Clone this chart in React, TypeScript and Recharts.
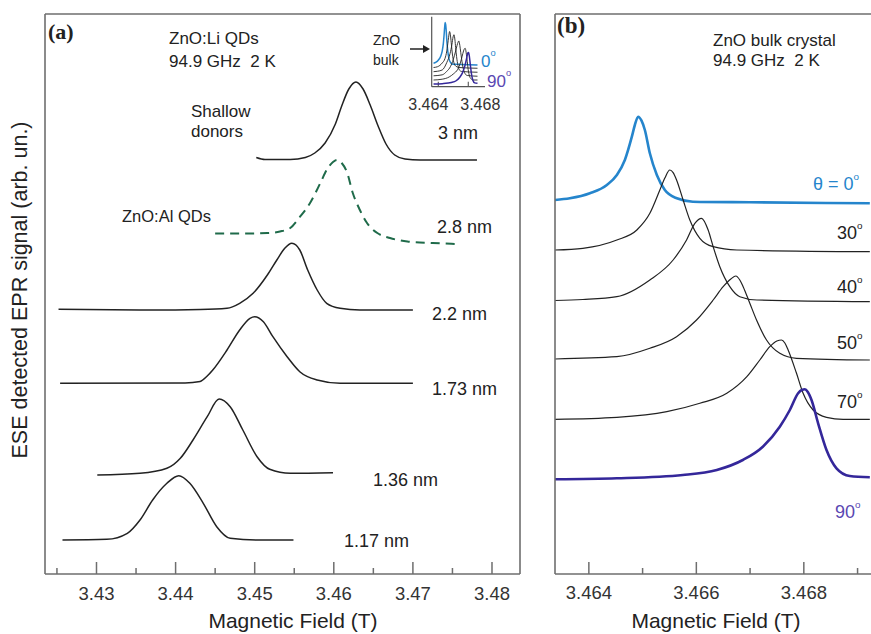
import React from 'react';
import { LineChart, Line, XAxis, YAxis, ReferenceLine } from 'recharts';

// ---- panel (a): ZnO:Li / ZnO:Al quantum dots, field in T, signal in arb. units ----
const li3Field = [3.4502, 3.4513, 3.4545, 3.4564, 3.4576, 3.4589, 3.4602, 3.461, 3.4619, 3.4628, 3.4637, 3.4646, 3.4656, 3.4666, 3.4677, 3.469, 3.4709, 3.4781];
const li3Signal = [41.65, 41.45, 41.45, 41.65, 42.1, 43.1, 45.0, 46.8, 48.5, 49.2, 48.5, 46.9, 44.8, 43.0, 41.9, 41.5, 41.4, 41.4];

const al28Field = [3.445, 3.4488, 3.4516, 3.4532, 3.4545, 3.4557, 3.457, 3.4583, 3.4591, 3.4599, 3.4604, 3.461, 3.4617, 3.4624, 3.4633, 3.4642, 3.4655, 3.4671, 3.4693, 3.4725, 3.4753];
const al28Signal = [34.05, 34.05, 34.1, 34.25, 34.6, 35.7, 37.1, 39.1, 40.4, 41.2, 41.4, 41.1, 40.1, 38.1, 36.4, 35.1, 34.1, 33.6, 33.25, 33.1, 33.0];

const li22Field = [3.4252, 3.4368, 3.4431, 3.4465, 3.4481, 3.4498, 3.4516, 3.4528, 3.4538, 3.4547, 3.4557, 3.4567, 3.4579, 3.4591, 3.4608, 3.4633, 3.47];
const li22Signal = [26.47, 26.4, 26.45, 26.57, 27.07, 28.07, 29.9, 31.4, 32.57, 33.07, 32.4, 30.4, 28.4, 27.07, 26.57, 26.4, 26.4];

const li173Field = [3.4254, 3.4412, 3.4431, 3.444, 3.4447, 3.4465, 3.4481, 3.4494, 3.45, 3.4511, 3.4523, 3.4541, 3.4557, 3.4579, 3.4608, 3.47];
const li173Signal = [19.07, 19.1, 19.25, 19.8, 20.4, 22.4, 24.4, 25.57, 25.73, 25.23, 23.73, 21.73, 20.23, 19.4, 19.07, 19.07];

const li136Field = [3.4301, 3.4355, 3.4389, 3.4406, 3.4422, 3.444, 3.4455, 3.4469, 3.4485, 3.4503, 3.4519, 3.4545, 3.4599];
const li136Signal = [9.9, 10.07, 10.57, 11.57, 13.4, 15.73, 17.5, 16.73, 14.4, 11.73, 10.47, 10.07, 10.13];

const li117Field = [3.4257, 3.4313, 3.4339, 3.4355, 3.4371, 3.4389, 3.4404, 3.4418, 3.4435, 3.4452, 3.4469, 3.4503, 3.4549];
const li117Signal = [3.4, 3.47, 4.07, 5.4, 7.4, 9.07, 9.83, 9.07, 7.07, 4.73, 3.57, 3.4, 3.4];

const majorTicksA = [3.43, 3.44, 3.45, 3.46, 3.47, 3.48];
const minorTicksA = [3.425, 3.435, 3.445, 3.455, 3.465, 3.475];

// ---- panel (b): ZnO bulk crystal, angle series ----
const deg0Field = [3.463367, 3.463647, 3.464019, 3.464335, 3.464521, 3.46467, 3.4648, 3.464856, 3.464917, 3.46498, 3.465042, 3.465135, 3.465265, 3.465414, 3.465637, 3.465935, 3.466995, 3.469228];
const deg0Signal = [37.4, 37.57, 38.07, 38.9, 39.9, 41.4, 43.73, 44.9, 45.73, 45.33, 44.4, 42.07, 39.9, 38.4, 37.57, 37.23, 37.17, 37.07];

const deg30Field = [3.463367, 3.463888, 3.464521, 3.464893, 3.465135, 3.465321, 3.465414, 3.465507, 3.465568, 3.465632, 3.465754, 3.465879, 3.466065, 3.466313, 3.466753, 3.469228];
const deg30Signal = [32.4, 32.57, 33.4, 34.4, 36.07, 38.4, 39.6, 40.4, 40.13, 39.4, 37.4, 35.4, 33.57, 32.73, 32.4, 32.23];

const deg40Field = [3.463367, 3.463888, 3.464521, 3.465135, 3.465568, 3.465818, 3.465972, 3.466097, 3.46622, 3.466313, 3.466437, 3.466623, 3.466809, 3.467126, 3.469228];
const deg40Signal = [27.35, 27.45, 27.73, 29.4, 31.4, 33.4, 35.07, 35.57, 34.4, 32.73, 30.73, 28.73, 27.73, 27.4, 27.23];

const deg50Field = [3.463367, 3.464521, 3.465135, 3.465632, 3.466004, 3.466313, 3.466499, 3.466642, 3.466735, 3.466809, 3.466871, 3.466995, 3.46712, 3.467306, 3.467553, 3.467864, 3.469228];
const deg50Signal = [21.5, 21.73, 22.57, 23.73, 25.4, 27.4, 28.73, 29.5, 29.8, 29.4, 28.73, 27.07, 25.4, 23.4, 22.07, 21.57, 21.4];

const deg70Field = [3.463367, 3.464521, 3.465451, 3.466065, 3.466567, 3.46694, 3.467181, 3.467367, 3.467498, 3.467585, 3.467647, 3.467708, 3.467864, 3.467987, 3.468173, 3.468422, 3.468731, 3.469228];
const deg70Signal = [15.47, 15.67, 16.23, 17.07, 18.07, 19.73, 21.4, 22.73, 23.3, 23.4, 23.1, 22.4, 20.07, 18.07, 16.4, 15.67, 15.47, 15.47];

const deg90Field = [3.463367, 3.464521, 3.465749, 3.466381, 3.466865, 3.467237, 3.467553, 3.46774, 3.467894, 3.467963, 3.468019, 3.468074, 3.468143, 3.468266, 3.468422, 3.468608, 3.468856, 3.469228];
const deg90Signal = [9.47, 9.57, 9.9, 10.4, 11.4, 12.73, 14.73, 16.4, 18.07, 18.4, 18.47, 18.2, 17.4, 15.07, 12.4, 10.57, 9.8, 9.67];

const majorTicksB = [3.464, 3.466, 3.468];
const minorTicksB = [3.465, 3.467, 3.469];

// inset in panel (a): same bulk spectra, compressed
const insetBase = [2.34, 1.92, 1.5, 1.09, 0.67, 0.27];
const insetGain = [0.49, 0.45, 0.45, 0.42, 0.4, 0.35];
const insetTicks = [3.464, 3.468];

const FONT = '"Liberation Sans", Arial, sans-serif';
const SERIF = '"Liberation Serif", "Times New Roman", serif';
const FRAME = '#6e6e6e';
const INK = '#222';
const BLUE = '#2585cc';
const PURPLE = '#34279a';
const GREEN = '#1f6b4a';

type Pt = { b: number; s: number };
const zip = (f: number[], s: number[]): Pt[] => f.map((b, i) => ({ b, s: s[i] }));

const panelA = [
  { key: 'li3', data: zip(li3Field, li3Signal), color: INK, width: 1.5, dash: undefined },
  { key: 'al28', data: zip(al28Field, al28Signal), color: GREEN, width: 2, dash: '9 6' },
  { key: 'li22', data: zip(li22Field, li22Signal), color: INK, width: 1.5, dash: undefined },
  { key: 'li173', data: zip(li173Field, li173Signal), color: INK, width: 1.5, dash: undefined },
  { key: 'li136', data: zip(li136Field, li136Signal), color: INK, width: 1.5, dash: undefined },
  { key: 'li117', data: zip(li117Field, li117Signal), color: INK, width: 1.5, dash: undefined },
];

const bulkSeries = [
  { key: 'd0', f: deg0Field, s: deg0Signal, color: BLUE, width: 2.6 },
  { key: 'd30', f: deg30Field, s: deg30Signal, color: INK, width: 1.2 },
  { key: 'd40', f: deg40Field, s: deg40Signal, color: INK, width: 1.2 },
  { key: 'd50', f: deg50Field, s: deg50Signal, color: INK, width: 1.2 },
  { key: 'd70', f: deg70Field, s: deg70Signal, color: INK, width: 1.2 },
  { key: 'd90', f: deg90Field, s: deg90Signal, color: PURPLE, width: 2.6 },
];

const insetSeries = bulkSeries.map((c, i) => ({
  ...c,
  data: c.f.map((b, j) => ({ b, s: insetBase[i] + (c.s[j] - c.s[0]) * insetGain[i] })),
}));

// label only; tick marks are drawn as reference segments inside the frame
function FieldLabel(props: any) {
  const { x, y, payload, digits, fontSize, labelGap, shifts, majors } = props;
  const v = payload.value as number;
  const idx = majors.findIndex((m: number) => Math.abs(m - v) < 1e-7);
  const dx = shifts ? shifts[idx] || 0 : 0;
  return (
    <text x={x + dx} y={y + labelGap} textAnchor="middle" dominantBaseline="central" fontFamily={FONT} fontSize={fontSize} fill="#333">
      {v.toFixed(digits)}
    </text>
  );
}

const frameLine = { stroke: FRAME, strokeWidth: 1.6 };

function tickMarks(values: number[], len: number, color = FRAME, w = 1.5) {
  return values.map((v) => (
    <ReferenceLine
      key={`tk${v}`}
      xAxisId="b"
      yAxisId="l"
      segment={[{ x: v, y: 0 }, { x: v, y: len }]}
      stroke={color}
      strokeWidth={w}
      ifOverflow="visible"
    />
  ));
}

function Deg({ x, y, n, color, size = 18 }: { x: number; y: number; n: string; color: string; size?: number }) {
  return (
    <text x={x} y={y} dominantBaseline="central" fontFamily={FONT} fontSize={size} fill={color}>
      {n}
      <tspan dy={-size * 0.45} fontSize={size * 0.55}>o</tspan>
    </text>
  );
}

export default function App() {
  const domA: [number, number] = [3.42349, 3.48354];
  const domB: [number, number] = [3.46337, 3.46925];
  const domInset: [number, number] = [3.46312, 3.47023];
  const t = (x: number, y: number, s: string, size = 18, extra: any = {}) => (
    <text x={x} y={y} dominantBaseline="central" fontFamily={FONT} fontSize={size} fill="#222" {...extra}>
      {s}
    </text>
  );

  return (
    <div style={{ position: 'absolute', left: 0, top: 0, width: 871, height: 634, background: '#fff', overflow: 'hidden' }}>
      {/* panel (a) */}
      <div style={{ position: 'absolute', left: 0, top: 0 }}>
        <LineChart width={540} height={634} margin={{ top: 13, right: 19, bottom: 30, left: 44 }}>
          <XAxis
            xAxisId="b"
            type="number"
            dataKey="b"
            domain={domA}
            allowDataOverflow
            ticks={majorTicksA}
            interval={0}
            height={30}
            tickSize={0}
            tickMargin={0}
            tickLine={false}
            axisLine={frameLine}
            tick={<FieldLabel majors={majorTicksA} digits={2} fontSize={18.5} labelGap={19} />}
          />
          <XAxis xAxisId="t" orientation="top" type="number" dataKey="b" domain={domA} allowDataOverflow height={1} tick={false} tickLine={false} axisLine={frameLine} />
          <YAxis yAxisId="l" type="number" domain={[0, 56]} allowDataOverflow width={1} tick={false} tickLine={false} axisLine={frameLine} />
          <YAxis yAxisId="r" orientation="right" type="number" domain={[0, 56]} allowDataOverflow width={1} tick={false} tickLine={false} axisLine={frameLine} />
          {tickMarks(majorTicksA, 1.2)}
          {tickMarks(minorTicksA, 0.6)}
          {panelA.map((c) => (
            <Line
              key={c.key}
              xAxisId="b"
              yAxisId="l"
              data={c.data}
              dataKey="s"
              type="monotone"
              stroke={c.color}
              strokeWidth={c.width}
              strokeDasharray={c.dash}
              dot={false}
              activeDot={false}
              isAnimationActive={false}
            />
          ))}
        </LineChart>
      </div>

      {/* inset of panel (a) */}
      <div style={{ position: 'absolute', left: 400, top: 0 }}>
        <LineChart width={110} height={130} margin={{ top: 16.7, right: 25, bottom: 13.3, left: 30.7 }}>
          <XAxis
            xAxisId="b"
            type="number"
            dataKey="b"
            domain={domInset}
            allowDataOverflow
            ticks={insetTicks}
            interval={0}
            height={30}
            tickSize={0}
            tickMargin={0}
            tickLine={false}
            axisLine={{ stroke: '#555', strokeWidth: 1.2 }}
            tick={<FieldLabel majors={insetTicks} digits={3} fontSize={16} labelGap={18} shifts={[-10, 12]} />}
          />
          <YAxis yAxisId="l" type="number" domain={[0, 7]} allowDataOverflow width={1} tick={false} tickLine={false} axisLine={{ stroke: '#555', strokeWidth: 1.2 }} />
          {tickMarks(insetTicks, 0.5, '#555', 1.1)}
          {insetSeries.map((c) => (
            <Line
              key={c.key}
              xAxisId="b"
              yAxisId="l"
              data={c.data}
              dataKey="s"
              type="monotone"
              stroke={c.color}
              strokeWidth={c.width > 2 ? 1.5 : 0.9}
              dot={false}
              activeDot={false}
              isAnimationActive={false}
            />
          ))}
        </LineChart>
      </div>

      {/* panel (b) */}
      <div style={{ position: 'absolute', left: 540, top: 0 }}>
        <LineChart width={331} height={634} margin={{ top: 13, right: 0, bottom: 30, left: 14 }}>
          <XAxis
            xAxisId="b"
            type="number"
            dataKey="b"
            domain={domB}
            allowDataOverflow
            ticks={majorTicksB}
            interval={0}
            height={30}
            tickSize={0}
            tickMargin={0}
            tickLine={false}
            axisLine={frameLine}
            tick={<FieldLabel majors={majorTicksB} digits={3} fontSize={18.5} labelGap={18} />}
          />
          <XAxis xAxisId="t" orientation="top" type="number" dataKey="b" domain={domB} allowDataOverflow height={1} tick={false} tickLine={false} axisLine={frameLine} />
          <YAxis yAxisId="l" type="number" domain={[0, 56]} allowDataOverflow width={1} tick={false} tickLine={false} axisLine={frameLine} />
          {tickMarks(majorTicksB, 1.2)}
          {tickMarks(minorTicksB, 0.6)}
          {bulkSeries.map((c) => (
            <Line
              key={c.key}
              xAxisId="b"
              yAxisId="l"
              data={zip(c.f, c.s)}
              dataKey="s"
              type="monotone"
              stroke={c.color}
              strokeWidth={c.width}
              dot={false}
              activeDot={false}
              isAnimationActive={false}
            />
          ))}
        </LineChart>
      </div>

      {/* annotations */}
      <svg width={871} height={634} style={{ position: 'absolute', left: 0, top: 0, pointerEvents: 'none' }}>
        <text x={48} y={31} dominantBaseline="central" fontFamily={SERIF} fontWeight="bold" fontSize={22} fill="#222">(a)</text>
        {t(169, 38, 'ZnO:Li QDs', 17)}
        {t(169, 61, '94.9 GHz\u00a0\u00a02 K', 17)}
        {t(373, 40, 'ZnO', 14)}
        {t(373, 60, 'bulk', 14)}
        <line x1={410} y1={49} x2={426} y2={49} stroke="#222" strokeWidth={1.5} />
        <polygon points="430,49 423,45 423,53" fill="#222" />
        <Deg x={481} y={61} n="0" color={BLUE} size={17} />
        <Deg x={487} y={81} n="90" color="#5a47b2" size={17} />
        {t(191, 111, 'Shallow', 17)}
        {t(191, 131, 'donors', 17)}
        {t(438, 133, '3 nm', 18)}
        {t(122, 216, 'ZnO:Al QDs', 16.5)}
        {t(437, 227, '2.8 nm', 18)}
        {t(432, 314, '2.2 nm', 18)}
        {t(432, 389, '1.73 nm', 18)}
        {t(373, 480, '1.36 nm', 18)}
        {t(344, 541, '1.17 nm', 18)}
        {t(293, 620, 'Magnetic Field (T)', 21, { textAnchor: 'middle' })}
        <text x={20} y={290} textAnchor="middle" dominantBaseline="central" transform="rotate(-90 20 290)" fontFamily={FONT} fontSize={21.5} fill="#222">
          ESE detected EPR signal (arb. un.)
        </text>

        <text x={557} y={25} dominantBaseline="central" fontFamily={SERIF} fontWeight="bold" fontSize={23} fill="#222">(b)</text>
        {t(713, 40, 'ZnO bulk crystal', 17)}
        {t(713, 60, '94.9 GHz\u00a0\u00a02 K', 17)}
        <Deg x={813} y={184} n={'\u03b8 = 0'} color={BLUE} size={18} />
        <Deg x={837} y={233} n="30" color="#222" />
        <Deg x={837} y={287} n="40" color="#222" />
        <Deg x={837} y={343} n="50" color="#222" />
        <Deg x={837} y={402} n="70" color="#222" />
        <Deg x={835} y={512} n="90" color="#5a47b2" />
        {t(716, 620, 'Magnetic Field (T)', 21, { textAnchor: 'middle' })}
      </svg>
    </div>
  );
}
